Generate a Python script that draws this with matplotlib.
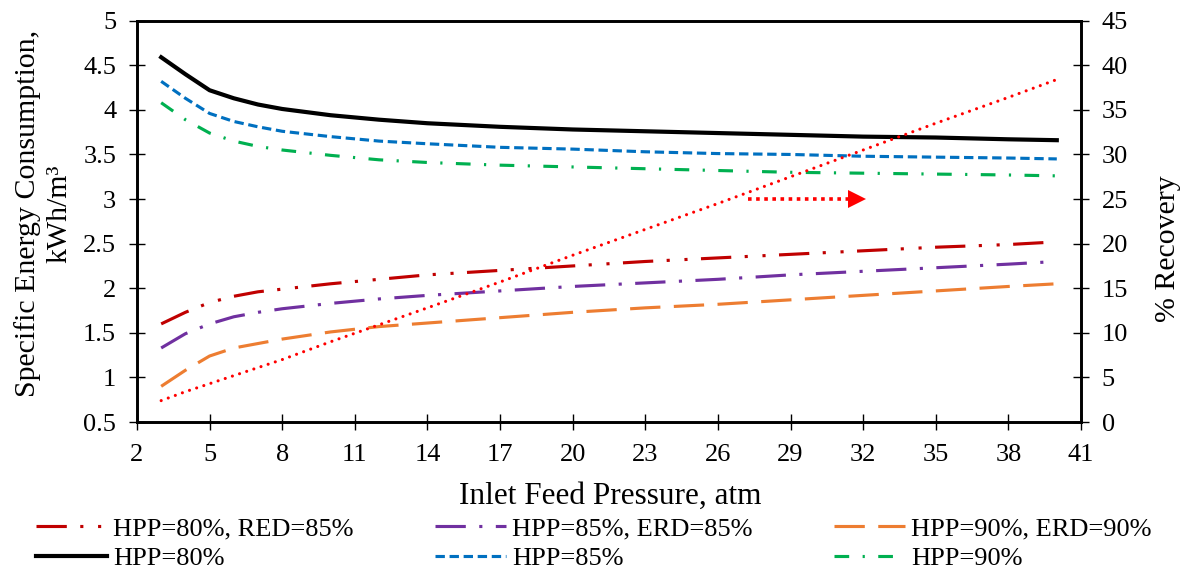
import matplotlib
matplotlib.use("Agg")
import matplotlib.pyplot as plt

plt.rcParams['font.family'] = ['Liberation Serif', 'DejaVu Serif']

# inlet feed pressure, atm
pressure = [3, 4, 5, 6, 7, 8, 10, 12, 14, 17, 20, 23, 26, 29, 32, 35, 38, 40]

# specific energy consumption, kWh/m3
sec_hpp80_erd85 = [1.60, 1.73, 1.84, 1.91, 1.96, 1.99, 2.05, 2.10, 2.15, 2.20, 2.25, 2.30, 2.34, 2.38, 2.42, 2.46, 2.49, 2.52]
sec_hpp85_erd85 = [1.33, 1.49, 1.60, 1.68, 1.73, 1.77, 1.83, 1.88, 1.92, 1.97, 2.02, 2.06, 2.10, 2.15, 2.19, 2.23, 2.27, 2.30]
sec_hpp90_erd90 = [0.90, 1.08, 1.24, 1.33, 1.38, 1.43, 1.51, 1.57, 1.61, 1.67, 1.73, 1.78, 1.82, 1.87, 1.92, 1.97, 2.02, 2.05]
sec_hpp80 = [4.59, 4.40, 4.22, 4.13, 4.06, 4.01, 3.94, 3.89, 3.85, 3.81, 3.78, 3.76, 3.74, 3.72, 3.70, 3.69, 3.67, 3.66]
sec_hpp85 = [4.32, 4.13, 3.96, 3.87, 3.81, 3.76, 3.70, 3.65, 3.62, 3.58, 3.56, 3.53, 3.51, 3.50, 3.48, 3.47, 3.46, 3.45]
sec_hpp90 = [4.08, 3.89, 3.74, 3.65, 3.59, 3.55, 3.49, 3.44, 3.41, 3.38, 3.36, 3.34, 3.32, 3.30, 3.29, 3.28, 3.27, 3.26]

# permeate recovery, %
recovery = [2.4, 3.4, 4.3, 5.2, 6.1, 7.0, 9.0, 10.9, 12.8, 15.7, 18.7, 21.6, 24.5, 27.5, 30.5, 33.5, 36.4, 38.4]

x_ticks = [2, 5, 8, 11, 14, 17, 20, 23, 26, 29, 32, 35, 38, 41]
left_ticks = [0.5, 1, 1.5, 2, 2.5, 3, 3.5, 4, 4.5, 5]
left_tick_labels = ['0.5', '1', '1.5', '2', '2.5', '3', '3.5', '4', '4.5', '5']
right_ticks = [0, 5, 10, 15, 20, 25, 30, 35, 40, 45]

# arrow pointing to the recovery axis: dotted shaft + head
arrow_x = [27.24, 31.4]
arrow_y = [3.0, 3.0]
arrow_head_x = 31.73

fig = plt.figure(figsize=(11.9, 5.73), dpi=100)
ax = fig.add_axes([0.1151, 0.2635, 0.7933, 0.7004])
ax2 = ax.twinx()

lw = 2.25
l1, = ax.plot(pressure, sec_hpp80_erd85, color='#C00000', lw=lw,
              linestyle=(0, (9.7, 4.3, 1, 4.7, 1, 4.3)), label='HPP=80%, RED=85%')
l2, = ax.plot(pressure, sec_hpp85_erd85, color='#7030A0', lw=lw,
              linestyle=(0, (9.7, 4.3, 1, 4.3)), label='HPP=85%, ERD=85%')
l3, = ax.plot(pressure, sec_hpp90_erd90, color='#ED7D31', lw=lw,
              linestyle=(0, (9.7, 4.3)), label='HPP=90%, ERD=90%')
l4, = ax.plot(pressure, sec_hpp80, color='black', lw=3.0, label='HPP=80%')
l5, = ax.plot(pressure, sec_hpp85, color='#0070C0', lw=lw,
              linestyle=(0, (3.0, 1.5)), label='HPP=85%')
l6, = ax.plot(pressure, sec_hpp90, color='#00B050', lw=lw,
              linestyle=(0, (4.7, 4.3, 0.7, 4.3)), label='HPP=90%')

ax2.plot(pressure, recovery, color='#FF0000', lw=lw, linestyle=(0, (0.01, 2.4)),
         dash_capstyle='round')

ax.plot(arrow_x, arrow_y, color='#FF0000', lw=2.6, linestyle=(0, (1, 1.25)))
ax.plot(arrow_head_x, arrow_y[1], marker='>', ms=12.5, color='#FF0000', mew=0)

ax.set_xlim(2, 41)
ax.set_ylim(0.5, 5)
ax2.set_ylim(0, 45)
ax.set_xticks(x_ticks)
ax.set_yticks(left_ticks)
ax.set_yticklabels(left_tick_labels)
ax2.set_yticks(right_ticks)

for a in (ax, ax2):
    for s in a.spines.values():
        s.set_linewidth(1.9)
ax.tick_params(axis='both', direction='inout', length=12, width=1.0, labelsize=19)
ax.tick_params(axis='y', pad=9)
ax.tick_params(axis='x', pad=10)
ax2.tick_params(axis='y', direction='inout', length=12, width=1.0, labelsize=19, pad=9)

ax.set_xlabel('Inlet Feed Pressure, atm', fontsize=22.5)
ax.xaxis.set_label_coords(0.501, -0.148)
ax.set_ylabel('Specific Energy Consumption,\nkWh/m³', fontsize=21.5, linespacing=1.3)
ax.yaxis.set_label_coords(-0.068, 0.52)
ax2.set_ylabel('% Recovery', fontsize=21.5)
ax2.yaxis.set_label_coords(1.078, 0.431)

fig.legend(handles=[l1, l4, l2, l5, l3, l6], ncol=3, loc='upper left',
           bbox_to_anchor=(0.030, 0.098), frameon=False, fontsize=19,
           handlelength=2.69, handletextpad=0.25, columnspacing=3.07,
           labelspacing=0.25, borderpad=0, borderaxespad=0)

fig.savefig('out.png', dpi=100)
